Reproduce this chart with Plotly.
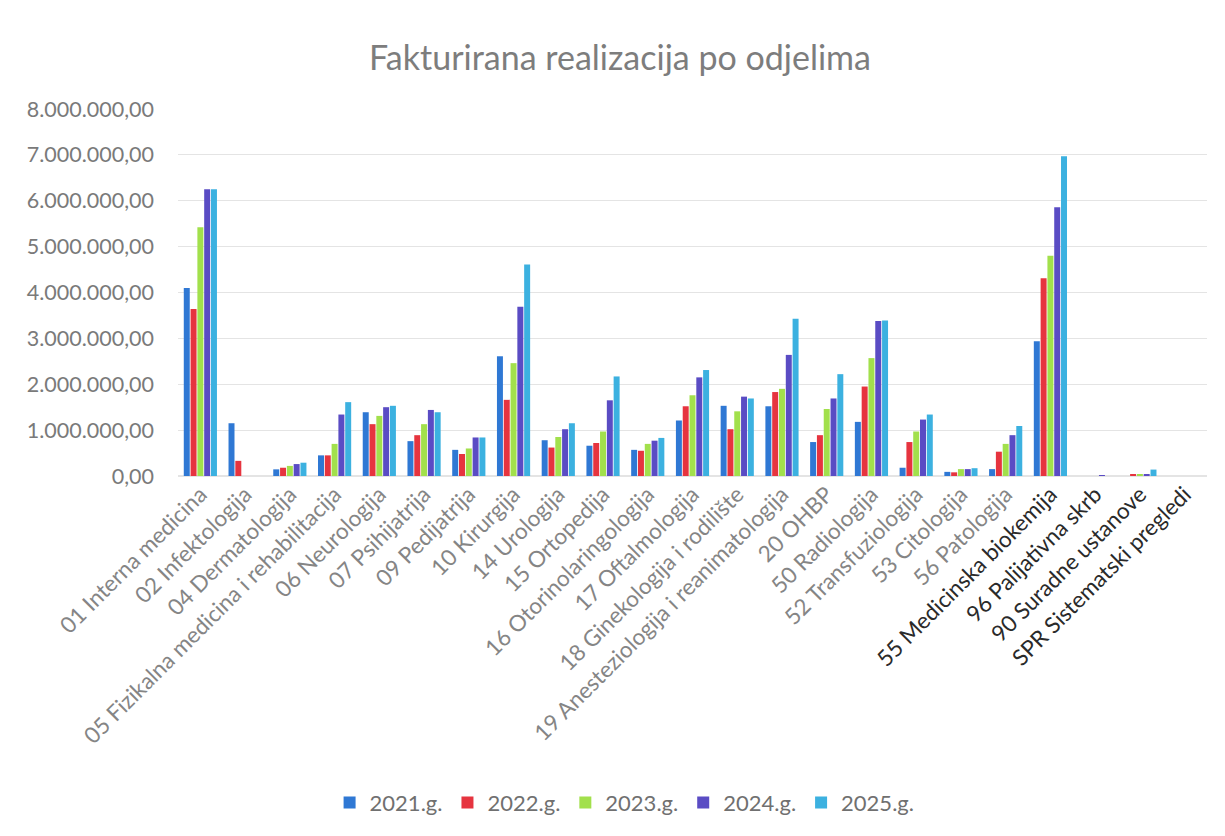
import plotly.graph_objects as go

categories = [
    "01 Interna medicina", "02 Infektologija", "04 Dermatologija",
    "05 Fizikalna medicina i rehabilitacija", "06 Neurologija", "07 Psihijatrija",
    "09 Pedijatrija", "10 Kirurgija", "14 Urologija", "15 Ortopedija",
    "16 Otorinolaringologija", "17 Oftalmologija", "18 Ginekologija i rodilište",
    "19 Anesteziologija i reanimatologija", "20 OHBP", "50 Radiologija",
    "52 Transfuziologija", "53 Citologija", "56 Patologija",
    "55 Medicinska biokemija", "96 Palijativna skrb", "90 Suradne ustanove",
    "SPR Sistematski pregledi",
]

series_names = ["2021.g.", "2022.g.", "2023.g.", "2024.g.", "2025.g."]

v2021 = [4100000, 1150000, 145000, 450000, 1390000, 760000, 570000, 2610000, 780000, 660000,
         570000, 1210000, 1530000, 1520000, 740000, 1180000, 180000, 90000, 150000, 2940000,
         0, 0, 0]
v2022 = [3640000, 330000, 180000, 450000, 1130000, 890000, 480000, 1660000, 620000, 720000,
         550000, 1520000, 1020000, 1830000, 890000, 1950000, 740000, 80000, 530000, 4310000,
         0, 30000, 0]
v2023 = [5420000, 0, 220000, 700000, 1310000, 1130000, 600000, 2460000, 850000, 970000,
         700000, 1760000, 1410000, 1900000, 1460000, 2570000, 970000, 150000, 700000, 4800000,
         0, 30000, 0]
v2024 = [6250000, 0, 260000, 1340000, 1500000, 1440000, 840000, 3690000, 1020000, 1650000,
         770000, 2150000, 1730000, 2640000, 1690000, 3380000, 1230000, 150000, 890000, 5860000,
         10000, 40000, 0]
v2025 = [6250000, 0, 290000, 1610000, 1530000, 1390000, 840000, 4610000, 1150000, 2170000,
         830000, 2310000, 1690000, 3430000, 2220000, 3390000, 1340000, 170000, 1090000, 6970000,
         0, 140000, 0]

series_values = [v2021, v2022, v2023, v2024, v2025]
colors = ["#2f78d4", "#e6343f", "#a2e04c", "#5a4cc4", "#3cb1e0"]

dark_labels = {"55 Medicinska biokemija", "96 Palijativna skrb",
               "90 Suradne ustanove", "SPR Sistematski pregledi"}
tick_text = [f'<span style="color:#2a2a2a">{c}</span>' if c in dark_labels else c
             for c in categories]

fig = go.Figure()
for name, vals, col in zip(series_names, series_values, colors):
    fig.add_trace(go.Bar(name=name, x=categories, y=vals, marker_color=col,
                         marker_line_width=0))

font_family = "Lato, 'Liberation Sans', sans-serif"
W, H = 1225, 836
fig.update_layout(
    width=W, height=H,
    paper_bgcolor="white", plot_bgcolor="white",
    separators=",.",
    barmode="group", bargap=0.24, bargroupgap=0.12,
    margin=dict(l=170, r=26, t=101, b=368, autoexpand=False),
    title=dict(text="Fakturirana realizacija po odjelima", x=612 / W, xref="container",
               y=1 - 50 / H, yref="container", xanchor="center", yanchor="middle",
               font=dict(family=font_family, size=34, color="#7d7d7d")),
    font=dict(family=font_family, size=20, color="#7a7a7a"),
    legend=dict(orientation="h", x=0.434, xanchor="center", y=-0.89, yanchor="middle",
                font=dict(size=22, color="#707070"), traceorder="normal",
                itemwidth=30),
    showlegend=True,
)
fig.update_xaxes(tickmode="array", tickvals=categories, ticktext=tick_text,
                 tickangle=-45, showgrid=False, showline=False, ticks="",
                 tickfont=dict(size=22.5, color="#858585"))
fig.update_yaxes(range=[0, 8000000], dtick=1000000, tickformat=",.2f",
                 showgrid=True, gridcolor="#e4e4e4", gridwidth=1,
                 zeroline=True, zerolinecolor="#e4e4e4", showline=False, ticks="",
                 ticklabelstandoff=23,
                 tickfont=dict(size=21.5, color="#7a7a7a"))

fig.write_html("out.html")
